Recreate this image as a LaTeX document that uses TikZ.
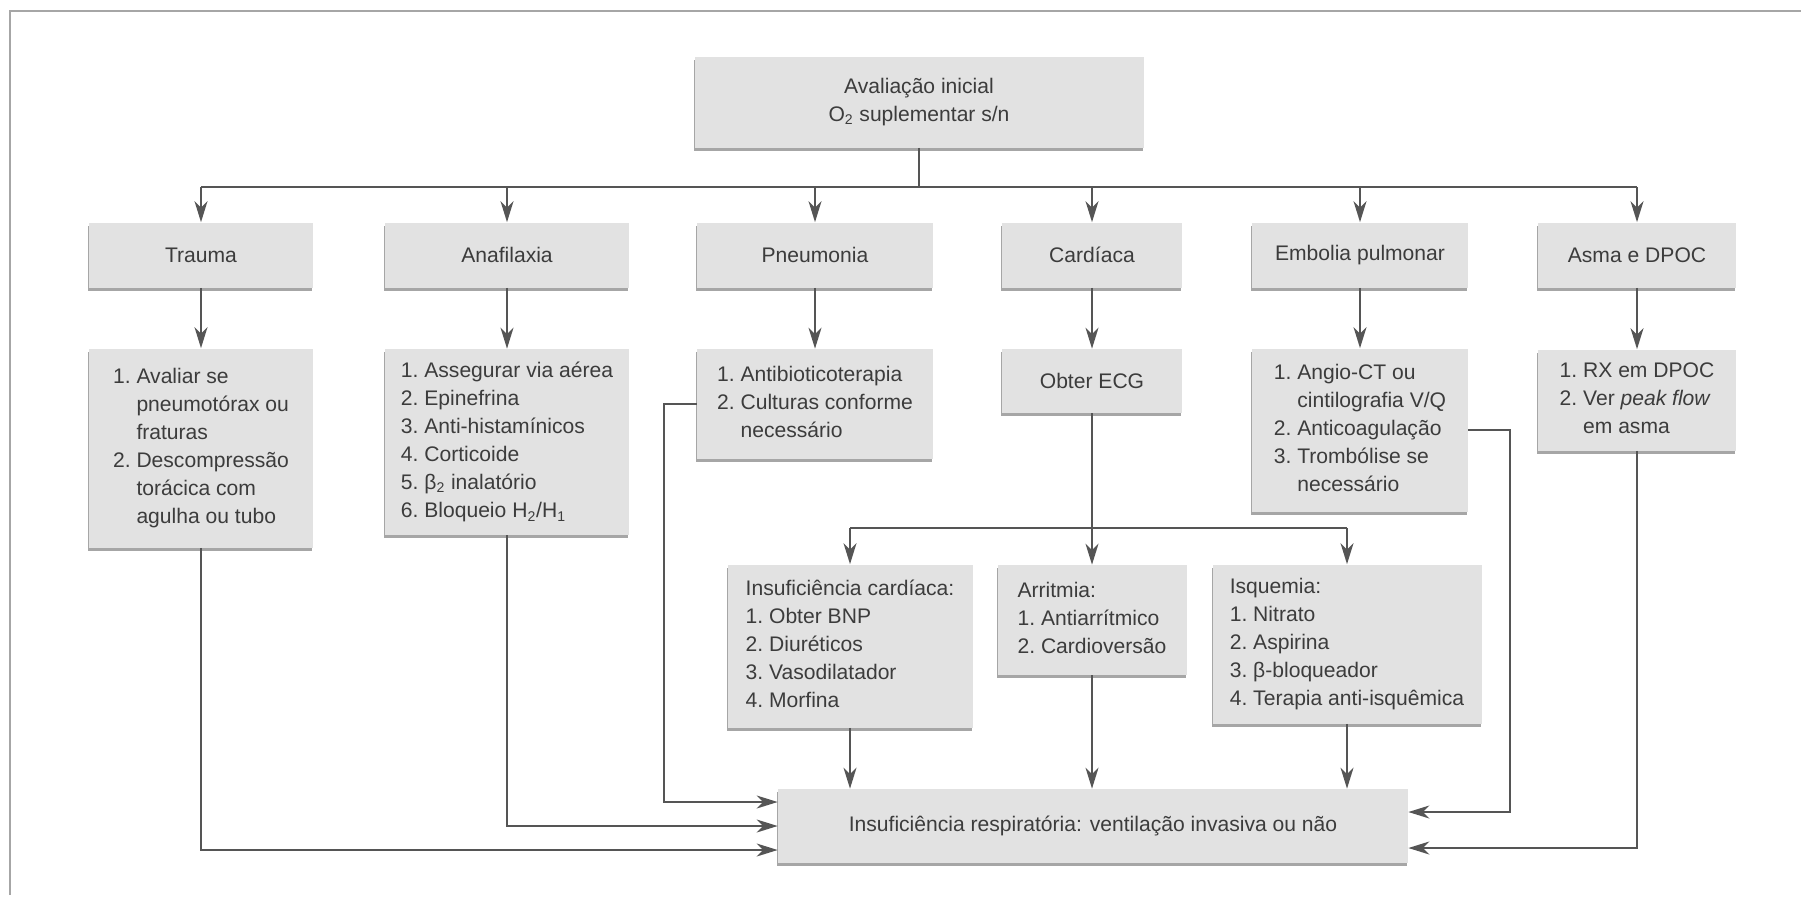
\documentclass[tikz,border=0pt]{standalone}
\usepackage{fontspec}
\setmainfont{Liberation Sans}
\usetikzlibrary{arrows.meta,shadows}
\definecolor{boxfill}{HTML}{E2E2E2}
\definecolor{linec}{HTML}{555555}
\definecolor{textc}{HTML}{3C3C3C}
\newcommand{\lista}[1]{\begin{tabular}{@{}l@{\ }l@{}}#1\end{tabular}}
\newcommand{\cab}[1]{\multicolumn{2}{@{}l@{}}{#1}}
\begin{document}
\begin{tikzpicture}[x=0.2mm,y=-0.2mm,
		box/.style={fill=boxfill, text=textc, inner sep=0pt, align=center,
			font=\fontsize{12}{16}\selectfont,
			drop shadow={shadow xshift=-0.2mm, shadow yshift=-0.6mm, fill=black!35, opacity=1}},
		wh/.style 2 args={minimum width=#1*0.2mm, minimum height=#2*0.2mm},
		linha/.style={draw=linec, line width=0.4mm},
		seta/.style={linha, -{Stealth[length=4.2mm, width=2.6mm, inset=1.3mm]}}]
		\useasboundingbox (0,0) rectangle (1801,900);
		\draw[gray!70, line width=0.4mm] (10,895) -- (10,11) -- (1801,11);
		\node[box, wh={449}{91}] (init) at (919,102) {Avaliação inicial\\O\textsubscript{2} suplementar s/n};
		\path
		(201,255) node[box, wh={224}{65}] (trauma) {Trauma}
		(507,255) node[box, wh={244}{65}] (anaf) {Anafilaxia}
		(815,255) node[box, wh={236}{65}] (pneu) {Pneumonia}
		(1092,255) node[box, wh={180}{65}] (card) {Cardíaca}
		(1360,255) node[box, wh={216}{65}] (embo) {Embolia pulmonar}
		(1637,255) node[box, wh={198}{65}] (asma) {Asma e DPOC}
		;
		\path
		(201,448) node[box, wh={224}{199}] (tlist) {\lista{1. & Avaliar se\\ & pneumotórax ou\\ & fraturas\\
			2. & Descompressão\\ & torácica com\\ & agulha ou tubo}}
		(507,442) node[box, wh={244}{186}] (alist) {\lista{1. & Assegurar via aérea\\ 2. & Epinefrina\\
			3. & Anti-histamínicos\\ 4. & Corticoide\\ 5. & β\textsubscript{2} inalatório\\
			6. & Bloqueio H\textsubscript{2}/H\textsubscript{1}}}
		(815,404) node[box, wh={236}{110}] (plist) {\lista{1. & Antibioticoterapia\\ 2. & Culturas conforme\\ & necessário}}
		(1092,381) node[box, wh={180}{64}] (ecg) {Obter ECG}
		(1360,430) node[box, wh={216}{163}] (elist) {\lista{1. & Angio-CT ou\\ & cintilografia V/Q\\
			2. & Anticoagulação\\ 3. & Trombólise se\\ & necessário}}
		(1637,400) node[box, wh={198}{101}] (dlist) {\lista{1. & RX em DPOC\\ 2. & Ver \textit{peak flow}\\ & em asma}}
		;
		\path
		(850,646) node[box, wh={245}{163}] (hf) {\lista{\cab{Insuficiência cardíaca:}\\ 1. & Obter BNP\\
			2. & Diuréticos\\ 3. & Vasodilatador\\ 4. & Morfina}}
		(1092,620) node[box, wh={189}{110}] (arrit) {\lista{\cab{Arritmia:}\\ 1. & Antiarrítmico\\ 2. & Cardioversão}}
		(1347,644) node[box, wh={269}{159}] (isq) {\lista{\cab{Isquemia:}\\ 1. & Nitrato\\ 2. & Aspirina\\
			3. & β-bloqueador\\ 4. & Terapia anti-isquêmica}}
		(1093,826) node[box, wh={630}{74}] (resp) {Insuficiência respiratória: ventilação invasiva ou não}
		;
		\coordinate (bar) at (0,187);
		\coordinate (ecgbar) at (0,528);
		\draw[linha] (init.south) -- (init.south |- bar);
		\draw[linha] (bar -| trauma.north) -- (bar -| asma.north);
		\foreach \n in {trauma,anaf,pneu,card,embo,asma}
			\draw[seta] (bar -| \n.north) -- (\n.north);
		\foreach \a/\b in {trauma/tlist,anaf/alist,pneu/plist,card/ecg,embo/elist,asma/dlist}
			\draw[seta] (\a.south) -- (\b.north);
		\draw[seta] (ecg.south) -- (arrit.north);
		\draw[linha] (ecgbar -| hf.north) -- (ecgbar -| isq.north);
		\draw[seta] (ecgbar -| hf.north) -- (hf.north);
		\draw[seta] (ecgbar -| isq.north) -- (isq.north);
		\foreach \n in {hf,arrit,isq}
			\draw[seta] (\n.south) -- (\n.south |- resp.north);
		\draw[seta] (plist.west) -- ++(-33,0) |- ([yshift=4.8mm]resp.west);
		\draw[seta] (alist.south) |- (resp.west);
		\draw[seta] (tlist.south) |- ([yshift=-4.8mm]resp.west);
		\draw[seta] (elist.east) -- ++(42,0) |- ([yshift=2.8mm]resp.east);
		\draw[seta] (dlist.south) |- ([yshift=-4.4mm]resp.east);
	\end{tikzpicture}
\end{document}
